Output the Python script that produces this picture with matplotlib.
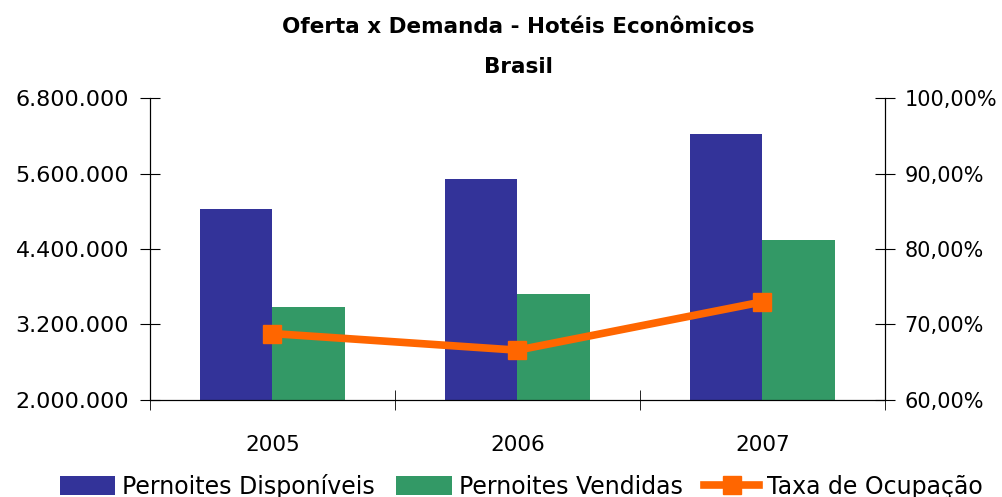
import matplotlib.pyplot as plt
import matplotlib.ticker as mticker
import numpy as np

anos = ["2005", "2006", "2007"]
disponiveis = [5030000, 5510000, 6230000]
vendidas = [3480000, 3680000, 4540000]
taxa = [68.8, 66.6, 73.0]

azul = "#333399"
verde = "#339966"
laranja = "#FF6600"

plt.rcParams["font.family"] = ["DejaVu Sans"]

fig = plt.figure(figsize=(10.02, 4.97), dpi=100)
ax = fig.add_axes([0.1497, 0.1952, 0.7335, 0.6076])
x = np.arange(len(anos))
w = 0.295

b1 = ax.bar(x - w / 2, [v - 2000000 for v in disponiveis], w, bottom=2000000,
            color=azul, label="Pernoites Disponíveis")
b2 = ax.bar(x + w / 2, [v - 2000000 for v in vendidas], w, bottom=2000000,
            color=verde, label="Pernoites Vendidas")
ax.set_xlim(-0.5, 2.5)
ax.set_ylim(2000000, 6800000)
ax.set_yticks([2000000, 3200000, 4400000, 5600000, 6800000])
ax.yaxis.set_major_formatter(
    mticker.FuncFormatter(lambda v, p: f"{int(v):,}".replace(",", ".")))
ax.set_xticks(x)
ax.set_xticklabels(anos)
ax.set_xticks([-0.5, 0.5, 1.5, 2.5], minor=True)
ax.tick_params(axis="x", which="major", length=0, pad=25, labelsize=15.5)
ax.tick_params(axis="x", which="minor", direction="inout", length=14)
ax.tick_params(axis="y", direction="inout", length=14, labelsize=16, pad=8)
ax.spines["top"].set_visible(False)

ax2 = ax.twinx()
l1, = ax2.plot(x, taxa, color=laranja, lw=5.5, marker="s", markersize=13,
               label="Taxa de Ocupação")
ax2.set_ylim(60, 100)
ax2.set_yticks([60, 70, 80, 90, 100])
ax2.yaxis.set_major_formatter(
    mticker.FuncFormatter(lambda v, p: f"{v:.2f}%".replace(".", ",")))
ax2.tick_params(axis="y", direction="inout", length=14, labelsize=15, pad=7)
ax2.spines["top"].set_visible(False)

fig.text(0.517, 0.945, "Oferta x Demanda - Hotéis Econômicos", ha="center",
         va="center", fontsize=15.5, fontweight="bold")
fig.text(0.517, 0.865, "Brasil", ha="center", va="center", fontsize=15.5,
         fontweight="bold")

fig.legend([b1, b2, l1], ["Pernoites Disponíveis", "Pernoites Vendidas", "Taxa de Ocupação"],
           loc="center", bbox_to_anchor=(0.52, 0.022), ncol=3, frameon=False,
           fontsize=17, handlelength=2.35, handleheight=0.85, columnspacing=0.9,
           handletextpad=0.3, borderpad=0)

fig.savefig("out.png", dpi=100)
